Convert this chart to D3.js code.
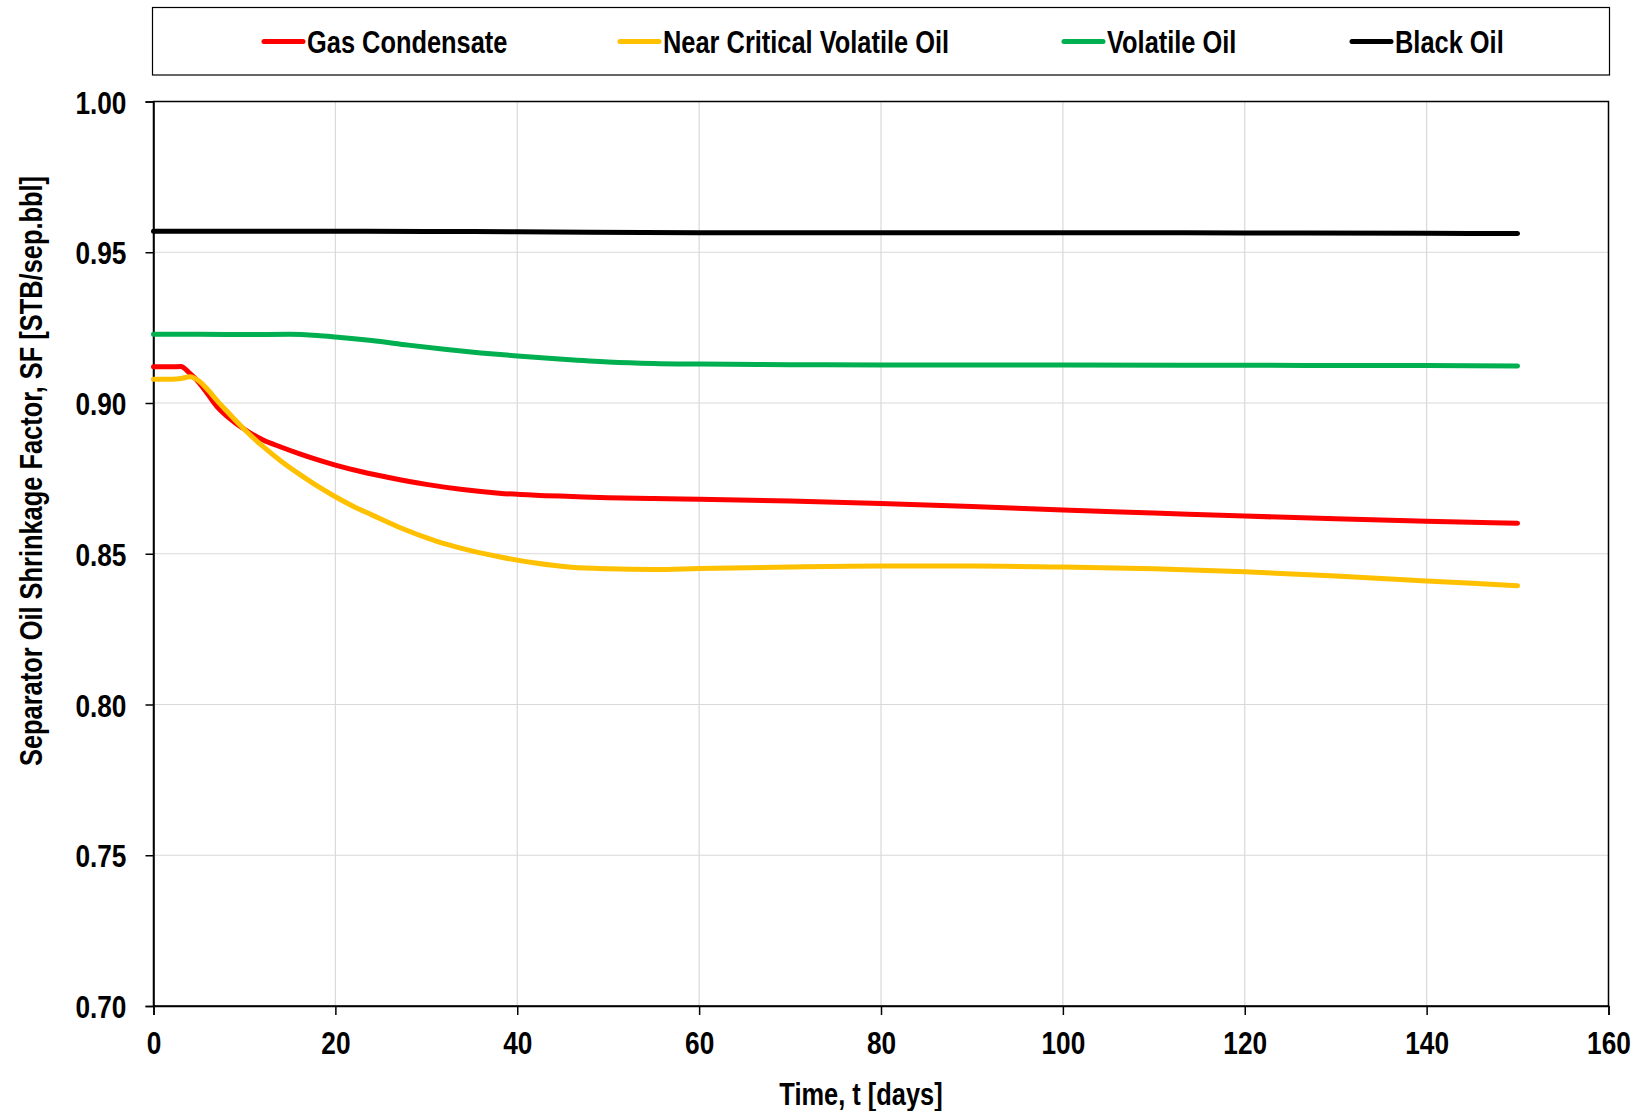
<!DOCTYPE html>
<html>
<head>
<meta charset="utf-8">
<script src="https://cdn.jsdelivr.net/npm/d3@7"></script>
<style>
  body { margin: 0; background: #fff; }
  svg { display: block; }
  text { font-family: "Liberation Sans", Arial, sans-serif; font-weight: bold; fill: #000; }
</style>
</head>
<body>
<svg width="1638" height="1111"></svg>
<script>
// series data
var names = ["Gas Condensate", "Near Critical Volatile Oil", "Volatile Oil", "Black Oil"];
var colors = ["#ff0000", "#ffc000", "#00b050", "#000000"];

var gcDays = [0, 1, 2, 3, 4, 5, 6, 7, 8, 9, 10, 12, 14, 16, 18, 20, 23, 26, 30, 34, 38, 42, 46, 50, 55, 60, 70, 80, 90, 100, 110, 120, 130, 140, 150];
var gcSF = [0.9120, 0.9120, 0.9120, 0.9121, 0.9098, 0.9068, 0.9028, 0.8987, 0.8958, 0.8934, 0.8913, 0.8878, 0.8854, 0.8832, 0.8812, 0.8794, 0.8771, 0.8752, 0.8730, 0.8713, 0.8701, 0.8694, 0.8690, 0.8686, 0.8683, 0.8681, 0.8675, 0.8667, 0.8657, 0.8645, 0.8635, 0.8625, 0.8616, 0.8608, 0.8601];

var ncvoDays = [0, 2, 3, 4, 5, 6, 7, 8, 9, 10, 12, 14, 16, 18, 20, 22, 24, 27, 31, 34, 38, 42, 46, 50, 55, 60, 70, 80, 90, 100, 110, 120, 130, 140, 150];
var ncvoSF = [0.9079, 0.9079, 0.9081, 0.9087, 0.9073, 0.9043, 0.9008, 0.8975, 0.8943, 0.8912, 0.8857, 0.8808, 0.8765, 0.8725, 0.8689, 0.8657, 0.8629, 0.8588, 0.8543, 0.8517, 0.8490, 0.8469, 0.8455, 0.8450, 0.8448, 0.8451, 0.8456, 0.8459, 0.8459, 0.8456, 0.8450, 0.8440, 0.8426, 0.8410, 0.8394];

var voDays = [0, 5, 10, 15, 18, 20, 24, 28, 32, 36, 40, 45, 50, 55, 60, 70, 80, 100, 120, 140, 150];
var voSF = [0.9228, 0.9228, 0.9227, 0.9228, 0.9224, 0.9219, 0.9207, 0.9192, 0.9178, 0.9166, 0.9156, 0.9145, 0.9136, 0.9131, 0.9129, 0.9127, 0.9126, 0.9126, 0.9125, 0.9124, 0.9123];

var boDays = [0, 20, 30, 40, 60, 80, 100, 120, 140, 150];
var boSF = [0.9570, 0.9570, 0.9569, 0.9568, 0.9565, 0.9565, 0.9565, 0.9564, 0.9563, 0.9562];

var xTicks = [0, 20, 40, 60, 80, 100, 120, 140, 160];
var yTicks = [0.70, 0.75, 0.80, 0.85, 0.90, 0.95, 1.00];

var svg = d3.select("svg"),
  pLeft = 153.5, pRight = 1608.5, pTop = 101.5, pBottom = 1006,
  narrow = "scale(0.82,1)"; // fake a narrow face (no Arial Narrow here)

var x = d3.scaleLinear().domain([0, 160]).range([pLeft, pRight]);
var y = d3.scaleLinear().domain([0.70, 1.00]).range([pBottom, pTop]);

// grid
var grid = svg.append("g");
grid.selectAll(".gx").data(xTicks).enter().append("line")
  .attr("x1", function(d) { return x(d); }).attr("x2", function(d) { return x(d); })
  .attr("y1", pTop).attr("y2", pBottom)
  .attr("stroke", "#d9d9d9").attr("stroke-width", 1.2);
grid.selectAll(".gy").data(yTicks).enter().append("line")
  .attr("x1", pLeft).attr("x2", pRight)
  .attr("y1", function(d) { return y(d); }).attr("y2", function(d) { return y(d); })
  .attr("stroke", "#d9d9d9").attr("stroke-width", 1.2);

// frame
svg.append("rect")
  .attr("x", pLeft).attr("y", pTop)
  .attr("width", pRight - pLeft).attr("height", pBottom - pTop)
  .attr("fill", "none").attr("stroke", "#000").attr("stroke-width", 1.5);

// axes
var xAxis = svg.append("g")
  .attr("transform", "translate(0," + pBottom + ")")
  .call(d3.axisBottom(x).tickValues(xTicks).tickSize(9).tickPadding(10).tickFormat(d3.format("d")));
var yAxis = svg.append("g")
  .attr("transform", "translate(" + pLeft + ",0)")
  .call(d3.axisLeft(y).tickValues(yTicks).tickSize(8).tickPadding(25).tickFormat(d3.format(".2f")));
[xAxis, yAxis].forEach(function(a) {
  a.select(".domain").attr("stroke", "#000").attr("stroke-width", 1.5);
  a.selectAll(".tick line").attr("stroke", "#000").attr("stroke-width", 1.5);
  a.selectAll(".tick text").style("font-size", "32px")
    .attr("font-family", null).attr("font-weight", null)
    .attr("fill", "#000").attr("transform", narrow);
});
xAxis.selectAll(".tick text").attr("dy", "0.92em");
yAxis.selectAll(".tick text").attr("dy", "0.36em");

// lines
var series = [
  { days: gcDays, sf: gcSF },
  { days: ncvoDays, sf: ncvoSF },
  { days: voDays, sf: voSF },
  { days: boDays, sf: boSF }
];
var line = d3.line()
  .x(function(d) { return x(d[0]); })
  .y(function(d) { return y(d[1]); })
  .curve(d3.curveMonotoneX);

series.forEach(function(s, i) {
  var pts = s.days.map(function(d, j) { return [d, s.sf[j]]; });
  svg.append("path")
    .attr("d", line(pts))
    .attr("fill", "none")
    .attr("stroke", colors[i])
    .attr("stroke-width", 5)
    .attr("stroke-linecap", "round")
    .attr("stroke-linejoin", "round");
});

// axis titles
svg.append("g").attr("transform", "translate(861,1094)")
  .append("text")
  .attr("transform", narrow)
  .attr("dy", "0.36em")
  .attr("text-anchor", "middle")
  .style("font-size", "31px")
  .text("Time, t [days]");
svg.append("g").attr("transform", "translate(31,471) rotate(-90)")
  .append("text")
  .attr("transform", narrow)
  .attr("dy", "0.36em")
  .attr("text-anchor", "middle")
  .style("font-size", "31px")
  .text("Separator Oil Shrinkage Factor, SF [STB/sep.bbl]");

// legend
svg.append("rect")
  .attr("x", 152.5).attr("y", 7.5).attr("width", 1457).attr("height", 67.5)
  .attr("fill", "#fff").attr("stroke", "#000").attr("stroke-width", 1.2);
var legX = [264, 620, 1064, 1352];
names.forEach(function(n, i) {
  var g = svg.append("g").attr("transform", "translate(" + legX[i] + ",41.5)");
  g.append("line").attr("x1", 0).attr("x2", 39)
    .attr("stroke", colors[i]).attr("stroke-width", 5).attr("stroke-linecap", "round");
  g.append("g").attr("transform", "translate(43,0)")
    .append("text").attr("transform", narrow).attr("dy", "0.36em")
    .style("font-size", "31px").text(n);
});
</script>
</body>
</html>
